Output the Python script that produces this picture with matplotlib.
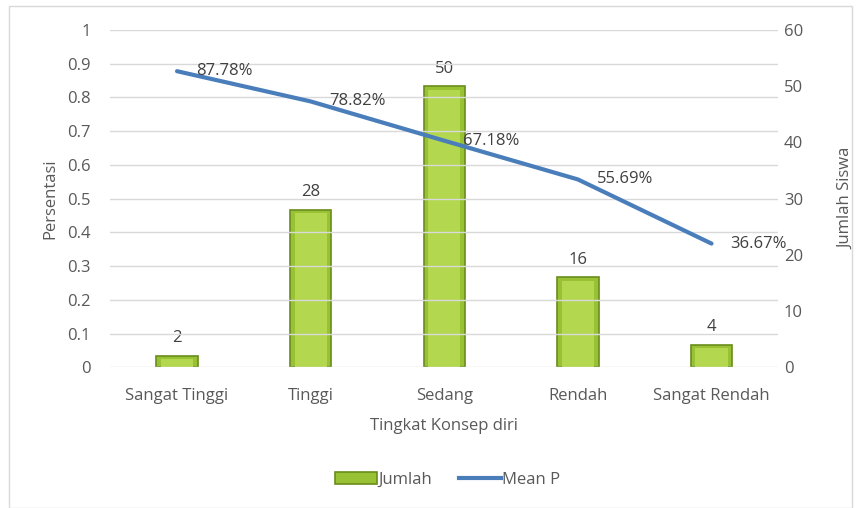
import matplotlib.pyplot as plt
from matplotlib.patches import Rectangle
from matplotlib.lines import Line2D

# Data
categories = ['Sangat Tinggi', 'Tinggi', 'Sedang', 'Rendah', 'Sangat Rendah']
jumlah = [2, 28, 50, 16, 4]
mean_p = [0.8778, 0.7882, 0.6718, 0.5569, 0.3667]
mean_labels = ['87.78%', '78.82%', '67.18%', '55.69%', '36.67%']

plt.rcParams['font.family'] = ['Open Sans', 'DejaVu Sans']
fs = 12
txt = '#595959'
bar_face = '#98c234'
bar_edge = '#6a8c1c'
line_col = '#4a7ebb'

fig = plt.figure(figsize=(8.61, 5.08), dpi=100)
fig.patches.append(Rectangle((0.011, 0.0), 0.978, 0.988, transform=fig.transFigure,
                             fill=False, edgecolor='#d9d9d9', linewidth=1))

ax = fig.add_axes([0.128, 0.277, 0.776, 0.664])
ax2 = ax.twinx()
ax.set_zorder(ax2.get_zorder() + 1)
ax.patch.set_visible(False)

x = range(len(categories))

# Bars on the right axis
ax2.bar(x, jumlah, width=0.31, color=bar_face, edgecolor=bar_edge, linewidth=1.2)
ax2.bar(x, [max(v - 0.6, 0.3) for v in jumlah], width=0.24, color='#b3d850',
        linewidth=0, zorder=3)
for xi, v in zip(x, jumlah):
    ax2.text(xi, v + 1.7, str(v), ha='center', va='bottom', fontsize=fs, color='#404040')

# Line on the left axis
ax.plot(x, mean_p, color=line_col, linewidth=3, solid_capstyle='round')
for xi, v, lab in zip(x, mean_p, mean_labels):
    ax.text(xi + 0.14, v, lab, ha='left', va='center', fontsize=fs, color='#404040')

ax.set_ylim(0, 1)
ax.set_yticks([i / 10 for i in range(11)])
ax.set_yticklabels(['0', '0.1', '0.2', '0.3', '0.4', '0.5', '0.6', '0.7', '0.8', '0.9', '1'])
ax2.set_ylim(0, 60)
ax2.set_yticks(range(0, 61, 10))
ax.set_xlim(-0.5, 4.5)
ax.set_xticks(list(x))
ax.set_xticklabels(categories)

ax2.grid(False)
for v in range(0, 11):
    ax.axhline(v / 10, color='#d9d9d9', linewidth=1, zorder=0)

for a in (ax, ax2):
    for s in a.spines.values():
        s.set_visible(False)
    a.tick_params(length=0, labelsize=fs, colors=txt)
ax.tick_params(axis='y', pad=14)
ax2.tick_params(axis='y', pad=4)
ax.tick_params(axis='x', pad=15)

ax.set_ylabel('Persentasi', fontsize=fs, color=txt, labelpad=6)
ax2.set_ylabel('Jumlah Siswa', fontsize=fs, color=txt, rotation=90, labelpad=25)
ax.set_xlabel('Tingkat Konsep diri', fontsize=fs, color=txt, labelpad=10)

handles = [Rectangle((0, 0), 1, 1, facecolor=bar_face, edgecolor=bar_edge, linewidth=1.2),
           Line2D([0], [0], color=line_col, linewidth=3)]
fig.legend(handles, ['Jumlah', 'Mean P'], loc='center', bbox_to_anchor=(0.52, 0.055),
           ncol=2, frameon=False, fontsize=fs, labelcolor=txt, handlelength=2.5,
           handletextpad=0.1, columnspacing=1.6)

fig.savefig('out.png', dpi=100)
